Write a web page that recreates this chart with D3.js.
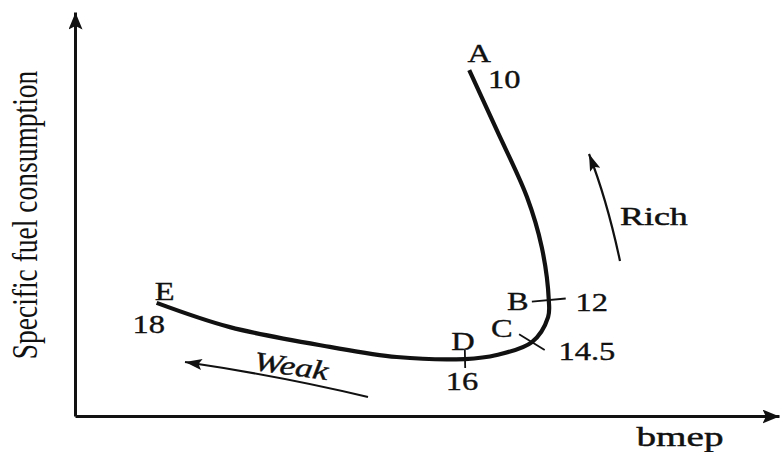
<!DOCTYPE html>
<html>
<head>
<meta charset="utf-8">
<script src="https://cdn.jsdelivr.net/npm/d3@7"></script>
<style>
  html, body { margin: 0; padding: 0; background: #fff; }
  svg { display: block; }
  text { font-family: "Liberation Serif", "Times New Roman", serif; fill: #111; }
</style>
</head>
<body>
<svg id="chart" width="781" height="452"></svg>
<script>
// Specific fuel consumption against bmep as the mixture goes from weak (E) to rich (A)
const bmep = [11.6, 22.0, 36.2, 45.7, 55.4, 59.9, 64.9, 67.2, 67.3, 66.3, 64.2, 59.9, 56.0];
const sfc  = [28.0, 22.0, 17.1, 14.6, 14.1, 15.1, 18.3, 24.5, 28.7, 41.8, 54.2, 70.8, 85.6];

// Named points on the loop and their air-fuel ratios
const pointNames = ["E", "D", "C", "B", "A"];
const airFuel    = ["18", "16", "14.5", "12", "10"];
const pointIndex = [0, 4, 6, 8, 12];

const xTitle = "bmep";
const yTitle = "Specific fuel consumption";
const richLabel = "Rich";
const weakLabel = "Weak";

const svg = d3.select("#chart");
const ink = "#111";
const stretch = 1.3;   // wide type

const x = d3.scaleLinear().domain([0, 100]).range([75, 779]);
const y = d3.scaleLinear().domain([0, 100]).range([416, 12]);

// arrowheads
const defs = svg.append("defs");
function head(id, len, wid) {
  defs.append("marker")
    .attr("id", id)
    .attr("viewBox", `0 0 ${len} ${wid}`)
    .attr("refX", len).attr("refY", wid / 2)
    .attr("markerUnits", "userSpaceOnUse")
    .attr("markerWidth", len).attr("markerHeight", wid)
    .attr("orient", "auto")
    .append("path")
    .attr("d", `M0,0L${len},${wid / 2}L0,${wid}L${len * 0.2},${wid / 2}Z`)
    .attr("fill", ink);
}
head("axisHead", 17, 14);
head("smallHead", 17, 11);

// axes (no ticks, arrow at the open end)
const yAxis = svg.append("g").attr("transform", `translate(${x(0)},0)`)
  .call(d3.axisLeft(y).tickValues([]).tickSizeOuter(0));
const xAxis = svg.append("g").attr("transform", `translate(0,${y(0)})`)
  .call(d3.axisBottom(x).tickValues([]).tickSizeOuter(0));
[yAxis, xAxis].forEach(g => g.select(".domain")
  .attr("stroke", ink).attr("stroke-width", 3)
  .attr("marker-end", "url(#axisHead)"));

// helper for stretched, slightly heavy text
function label(str, cx, cy, size, opts = {}) {
  const rot = opts.rotate || 0;
  return svg.append("text")
    .attr("transform", `translate(${cx},${cy}) rotate(${rot}) scale(${opts.sx || stretch},1)`)
    .attr("text-anchor", opts.anchor || "middle")
    .attr("font-size", size)
    .attr("font-style", opts.italic ? "italic" : null)
    .attr("stroke", ink)
    .attr("stroke-width", opts.weight == null ? 0.35 : opts.weight)
    .text(str);
}

// axis titles
svg.append("text")
  .attr("transform", `translate(37,215) rotate(-90) scale(1,1.33)`)
  .attr("text-anchor", "middle")
  .attr("font-size", 27.5)
  .text(yTitle);
label(xTitle, 680, 446, 28, { sx: 1.4, weight: 0.45 });

// the curve
const pts = bmep.map((b, i) => [x(b), y(sfc[i])]);
svg.append("path")
  .attr("d", d3.line().curve(d3.curveCatmullRom.alpha(0.5))(pts))
  .attr("fill", "none")
  .attr("stroke", ink)
  .attr("stroke-width", 4.2)
  .attr("stroke-linecap", "butt");

// cross ticks at B, C, D and labels at every named point
const tickHalf = { B: 17, C: 15, D: 9 };
const tickTurn = { B: 0, C: -22, D: 0 };   // degrees off the curve normal
const layout = {
  E: { l: [8, -3],   n: [-8, 30] },
  D: { l: [-2, -9],  n: [-3, 31] },
  C: { l: [-30, -5], n: [55, 18] },
  B: { l: [-31, 10], n: [43, 11] },
  A: { l: [10, -8],  n: [35, 18] }
};
pointNames.forEach((name, k) => {
  const i = pointIndex[k];
  const [px, py] = pts[i];
  if (tickHalf[name]) {
    const a = pts[Math.max(0, i - 1)], b = pts[Math.min(pts.length - 1, i + 1)];
    const ang = Math.atan2(b[1] - a[1], b[0] - a[0]) + Math.PI / 2 + tickTurn[name] * Math.PI / 180;
    const nx = Math.cos(ang), ny = Math.sin(ang);
    const h = tickHalf[name];
    svg.append("line")
      .attr("x1", px - nx * h).attr("y1", py - ny * h)
      .attr("x2", px + nx * h).attr("y2", py + ny * h)
      .attr("stroke", ink).attr("stroke-width", 1.8);
  }
  const L = layout[name];
  label(name, px + L.l[0], py + L.l[1], 25);
  label(airFuel[k], px + L.n[0], py + L.n[1], 25);
});

// direction arrows
svg.append("path")
  .attr("d", "M620,261 Q607,200 589,154")
  .attr("fill", "none").attr("stroke", ink).attr("stroke-width", 2.2)
  .attr("marker-end", "url(#smallHead)");
label(richLabel, 620, 225, 26, { anchor: "start", sx: 1.38, weight: 0.5 });

svg.append("path")
  .attr("d", "M368,397 Q280,376 185,362")
  .attr("fill", "none").attr("stroke", ink).attr("stroke-width", 2.2)
  .attr("marker-end", "url(#smallHead)");
label(weakLabel, 290, 375, 27, { italic: true, rotate: 8, sx: 1.3, weight: 0.4 });
</script>
</body>
</html>
